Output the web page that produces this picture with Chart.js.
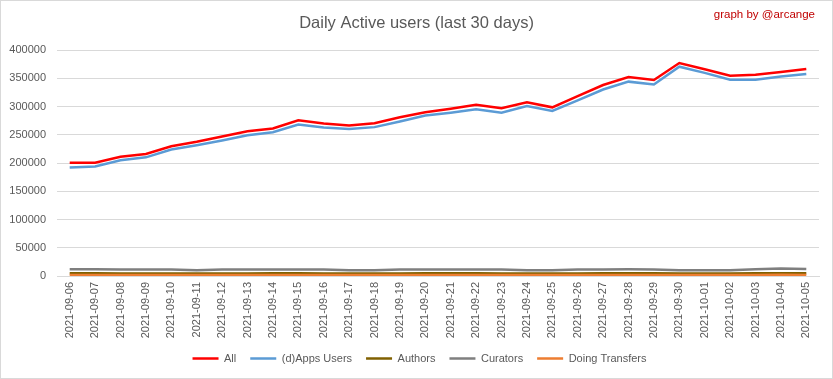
<!DOCTYPE html>
<html><head><meta charset="utf-8">
<script src="https://cdn.jsdelivr.net/npm/chart.js@4/dist/chart.umd.min.js"></script>
<style>html,body{margin:0;padding:0;background:#fff}#wrap{width:833px;height:379px;position:relative}</style>
</head><body><div id="wrap"><canvas id="c" width="833" height="379"></canvas></div>
<script>
const categories = ["2021-09-06","2021-09-07","2021-09-08","2021-09-09","2021-09-10","2021-09-11","2021-09-12","2021-09-13","2021-09-14","2021-09-15","2021-09-16","2021-09-17","2021-09-18","2021-09-19","2021-09-20","2021-09-21","2021-09-22","2021-09-23","2021-09-24","2021-09-25","2021-09-26","2021-09-27","2021-09-28","2021-09-29","2021-09-30","2021-10-01","2021-10-02","2021-10-03","2021-10-04","2021-10-05"];
const allUsers = [200500,200500,211000,216000,229500,237500,247000,256000,261000,275500,270000,266500,270500,281000,290000,296000,303000,297000,307500,298500,318500,338000,352000,347000,377000,366000,354500,356000,361000,366500];
const appsUsers = [192000,194000,205000,210000,224000,231500,240000,249000,254500,268000,263000,260000,263500,273500,284000,289000,295000,289000,301000,292000,311000,330000,344000,339000,370500,359500,347500,347500,353000,357500];
const authors = [4700,4700,4600,4500,4600,4500,4400,4600,4700,4700,4600,4400,4400,4600,4700,4700,4700,4600,4400,4300,4600,4800,4800,4700,4500,4400,4400,4800,5000,4900];
const curators = [11800,11800,11700,11700,11600,10200,11500,11600,11600,11700,11600,10300,10200,11500,11600,11600,11600,11600,10300,10200,11500,11700,11800,11600,10300,10200,10300,11800,13200,12600];
const doingTransfers = [1900,1900,1800,1900,1800,1800,1700,1800,1900,1900,1800,1700,1700,1800,1900,1900,1900,1800,1700,1700,1800,1900,1900,1900,1800,1700,1700,1900,2000,1900];
const yTicks = [0,50000,100000,150000,200000,250000,300000,350000,400000];
const titleText = "Daily Active users (last 30 days)";
const creditText = "graph by @arcange";

const seriesNames = ["All","(d)Apps Users","Authors","Curators","Doing Transfers"];
const seriesData = [allUsers, appsUsers, authors, curators, doingTransfers];
const seriesColors = ["#ff0000","#5b9bd5","#806000","#7f7f7f","#ed7d31"];

const decor = {
  id: 'decor',
  afterLayout(chart) {
    if (chart.legend) { chart.legend.left += 10; chart.legend.right += 10; }
  },
  beforeDraw(chart) {
    const ctx = chart.ctx;
    ctx.save();
    ctx.fillStyle = '#ffffff';
    ctx.fillRect(0, 0, chart.width, chart.height);
    ctx.restore();
  },
  afterDraw(chart) {
    const ctx = chart.ctx;
    ctx.save();
    ctx.strokeStyle = '#d9d9d9';
    ctx.lineWidth = 1;
    ctx.strokeRect(0.5, 0.5, chart.width - 1, chart.height - 1);
    ctx.fillStyle = '#595959';
    ctx.font = '16.5px "Liberation Sans", Arial, sans-serif';
    ctx.textAlign = 'center';
    ctx.textBaseline = 'middle';
    ctx.fillText(titleText, 416.5, 23);
    ctx.fillStyle = '#c00000';
    ctx.font = '11.5px "Liberation Sans", Arial, sans-serif';
    ctx.textAlign = 'right';
    ctx.fillText(creditText, 815, 15);
    ctx.restore();
  }
};

new Chart(document.getElementById('c'), {
  type: 'line',
  data: {
    labels: categories,
    datasets: seriesData.map((d, i) => ({
      label: seriesNames[i],
      data: d,
      borderColor: seriesColors[i],
      backgroundColor: seriesColors[i],
      borderWidth: 2.5,
      pointRadius: 0,
      pointHoverRadius: 0,
      tension: 0,
      fill: false,
      order: seriesData.length - 1 - i
    }))
  },
  options: {
    responsive: false,
    animation: false,
    devicePixelRatio: 1,
    layout: { padding: { top: 50, right: 14, bottom: 5, left: 0 } },
    plugins: {
      title: { display: false },
      tooltip: { enabled: false },
      legend: {
        position: 'bottom',
        labels: {
          usePointStyle: true,
          pointStyle: 'line',
          pointStyleWidth: 26,
          color: '#595959',
          font: { family: '"Liberation Sans", Arial, sans-serif', size: 11 },
          padding: 14,
          sort: (a, b) => a.datasetIndex - b.datasetIndex
        }
      }
    },
    scales: {
      x: {
        offset: true,
        grid: { display: false, drawTicks: false },
        border: { display: true, color: '#d9d9d9', width: 1 },
        ticks: {
          autoSkip: false,
          minRotation: 90,
          maxRotation: 90,
          padding: 6,
          color: '#595959',
          font: { family: '"Liberation Sans", Arial, sans-serif', size: 11 }
        },
        afterFit(scale) { scale.height = 63; }
      },
      y: {
        min: 0,
        max: 400000,
        afterBuildTicks(scale) { scale.ticks = yTicks.map(v => ({ value: v })); },
        grid: { color: '#d9d9d9', lineWidth: 1, drawTicks: false },
        border: { display: false },
        ticks: {
          padding: 11,
          color: '#595959',
          font: { family: '"Liberation Sans", Arial, sans-serif', size: 11 },
          callback: v => String(v)
        },
        afterFit(scale) { scale.width = 57; }
      }
    }
  },
  plugins: [decor]
});
</script>
</body></html>
